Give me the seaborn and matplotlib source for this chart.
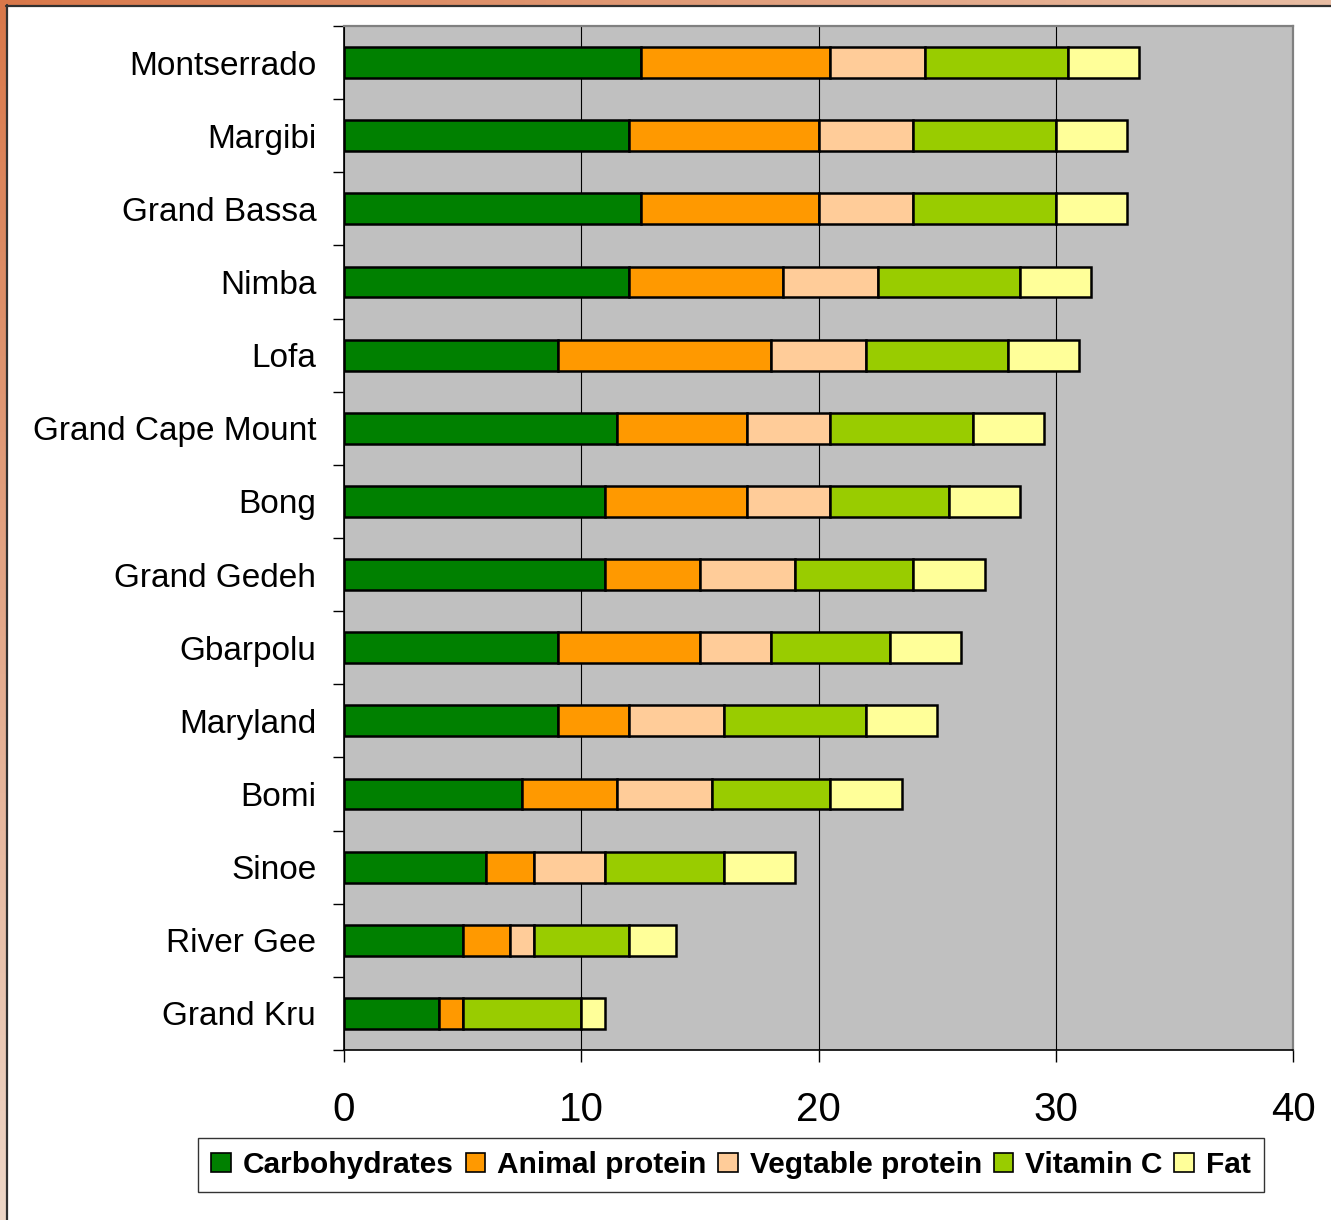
import numpy as np
import pandas as pd
import matplotlib
matplotlib.use("Agg")
import matplotlib.pyplot as plt
from matplotlib.lines import Line2D
import seaborn as sns

districts = ["Montserrado", "Margibi", "Grand Bassa", "Nimba", "Lofa",
             "Grand Cape Mount", "Bong", "Grand Gedeh", "Gbarpolu", "Maryland",
             "Bomi", "Sinoe", "River Gee", "Grand Kru"]
carbohydrates = [12.5, 12, 12.5, 12, 9, 11.5, 11, 11, 9, 9, 7.5, 6, 5, 4]
animal_protein = [8, 8, 7.5, 6.5, 9, 5.5, 6, 4, 6, 3, 4, 2, 2, 1]
vegetable_protein = [4, 4, 4, 4, 4, 3.5, 3.5, 4, 3, 4, 4, 3, 1, 0]
vitamin_c = [6, 6, 6, 6, 6, 6, 5, 5, 5, 6, 5, 5, 4, 5]
fat = [3, 3, 3, 3, 3, 3, 3, 3, 3, 3, 3, 3, 2, 1]

series_names = ["Carbohydrates", "Animal protein", "Vegtable protein", "Vitamin C", "Fat"]
series_values = [carbohydrates, animal_protein, vegetable_protein, vitamin_c, fat]
series_colors = ["#008000", "#FF9900", "#FFCC99", "#99CC00", "#FFFF99"]
x_ticks = [0, 10, 20, 30, 40]

sns.set_style("white")
plt.rcParams["font.family"] = ["Liberation Sans", "DejaVu Sans"]
plt.rcParams["text.color"] = "black"
plt.rcParams["xtick.color"] = "black"
plt.rcParams["ytick.color"] = "black"

W, H = 1331, 1220
fig = plt.figure(figsize=(W / 100, H / 100), dpi=100)
fig.patch.set_facecolor("white")

ax = fig.add_axes([344 / W, 1 - 1050 / H, 949 / W, 1024 / H])
ax.set_facecolor("#C0C0C0")

cum = np.zeros(len(districts))
for name, vals, col in zip(series_names, series_values, series_colors):
    df = pd.DataFrame({"district": districts, "value": vals})
    sns.barplot(data=df, x="value", y="district", order=districts, orient="h",
                color=col, saturation=1, errorbar=None, width=0.42,
                left=cum.copy(), edgecolor="black", linewidth=1.8,
                label=name, ax=ax, zorder=3)
    cum = cum + np.array(vals)

ax.set_xlim(0, 40)
ax.set_ylim(len(districts) - 0.5, -0.5)
ax.set_xticks(x_ticks)
ax.set_xticklabels([str(t) for t in x_ticks], fontsize=29)
ax.set_yticks(range(len(districts)))
ax.set_yticklabels(districts, fontsize=24)
ax.set_yticks(np.arange(-0.5, len(districts), 1), minor=True)
ax.set_xlabel("")
ax.set_ylabel("")

ax.tick_params(axis="y", which="major", length=0, pad=20, labelcolor="black")
ax.tick_params(axis="y", which="minor", length=8, width=1, direction="out", left=True, color="black")
ax.tick_params(axis="x", which="major", length=8.6, width=1, direction="out", bottom=True, pad=21,
               color="black", labelcolor="black")

ax.set_axisbelow(True)
ax.grid(False)
ax.xaxis.grid(True, color="black", linewidth=0.8)

for s in ["left", "bottom"]:
    ax.spines[s].set_color("black")
    ax.spines[s].set_linewidth(1.2)
for s in ["top", "right"]:
    ax.spines[s].set_color("#808080")
    ax.spines[s].set_linewidth(1.6)

handles = [c for c in ax.containers]
leg = ax.legend(handles, series_names, loc="center", ncol=5,
                bbox_to_anchor=(731 / W, 1 - 1165 / H), bbox_transform=fig.transFigure,
                prop={"weight": "bold", "size": 21.5}, frameon=True, fancybox=False,
                shadow=False, handlelength=0.65, handleheight=0.65, handletextpad=0.4,
                columnspacing=0.4, borderpad=0.45, borderaxespad=0, labelcolor="black")
leg.get_frame().set_edgecolor("black")
leg.get_frame().set_linewidth(1.0)
for h in leg.legend_handles:
    h.set_edgecolor("black")
    h.set_linewidth(1.2)

# slide frame decoration (top and left bands)
top_ax = fig.add_axes([0, 1 - 5 / H, 1, 5 / H])
grad_h = np.linspace(0, 1, 256)
c0 = np.array([0.85, 0.47, 0.29])
c1 = np.array([0.91, 0.74, 0.64])
img_h = (c0[None, :] * (1 - grad_h[:, None]) + c1[None, :] * grad_h[:, None])[None, :, :]
top_ax.imshow(img_h, aspect="auto", extent=[0, 1, 0, 1])
top_ax.axis("off")

left_ax = fig.add_axes([0, 0, 6 / W, 1 - 5 / H])
c2 = np.array([0.93, 0.84, 0.78])
grad_v = np.linspace(0, 1, 256)
img_v = (c0[None, :] * (1 - grad_v[:, None]) + c2[None, :] * grad_v[:, None])[:, None, :]
left_ax.imshow(img_v, aspect="auto", extent=[0, 1, 0, 1])
left_ax.axis("off")

fig.add_artist(Line2D([6.5 / W, 6.5 / W], [0, 1 - 5 / H], transform=fig.transFigure,
                      color="#303030", linewidth=1.6))
fig.add_artist(Line2D([6 / W, 1], [1 - 5.5 / H, 1 - 5.5 / H], transform=fig.transFigure,
                      color="#303030", linewidth=1.6))

fig.savefig("out.png", dpi=100, facecolor="white")
